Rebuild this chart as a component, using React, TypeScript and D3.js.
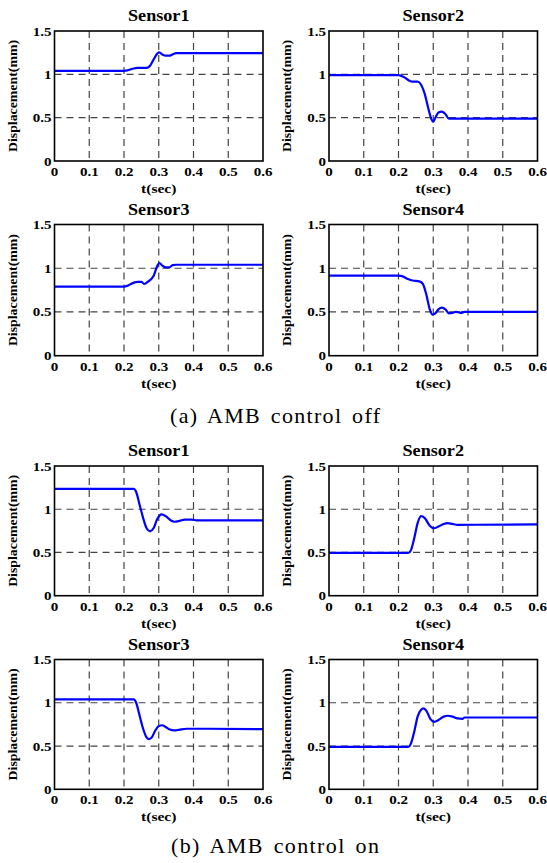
import React from "react";
import * as d3 from "d3";

// ---------- data ----------
const xTicks = [0, 0.1, 0.2, 0.3, 0.4, 0.5, 0.6];
const yTicks = [0, 0.5, 1, 1.5];
const xTickLabels = ["0", "0.1", "0.2", "0.3", "0.4", "0.5", "0.6"];
const yTickLabels = ["0", "0.5", "1", "1.5"];
const titles = ["Sensor1", "Sensor2", "Sensor3", "Sensor4"];
const captions = ["(a) AMB control off", "(b) AMB control on"];
const xLabel = "t(sec)";
const yLabel = "Displacement(mm)";

const offSensor1: [number, number][] = [
  [0, 1.04], [0.2, 1.04], [0.21, 1.045], [0.225, 1.065], [0.24, 1.075], [0.265, 1.075],
  [0.275, 1.1], [0.285, 1.17], [0.295, 1.235], [0.3, 1.255], [0.31, 1.23], [0.32, 1.215],
  [0.33, 1.215], [0.34, 1.23], [0.35, 1.245], [0.6, 1.245],
];
const offSensor2: [number, number][] = [
  [0, 0.99], [0.2, 0.99], [0.215, 0.97], [0.23, 0.93], [0.24, 0.915], [0.255, 0.915],
  [0.265, 0.88], [0.275, 0.78], [0.285, 0.62], [0.295, 0.48], [0.3, 0.45], [0.305, 0.49],
  [0.315, 0.56], [0.325, 0.57], [0.335, 0.54], [0.345, 0.49], [0.355, 0.49], [0.6, 0.49],
];
const offSensor3: [number, number][] = [
  [0, 0.79], [0.2, 0.79], [0.21, 0.8], [0.225, 0.83], [0.24, 0.845], [0.25, 0.845],
  [0.258, 0.82], [0.27, 0.85], [0.285, 0.91], [0.295, 1.02], [0.302, 1.06], [0.31, 1.03],
  [0.32, 1.01], [0.33, 1.01], [0.34, 1.035], [0.35, 1.04], [0.6, 1.04],
];
const offSensor4: [number, number][] = [
  [0, 0.915], [0.2, 0.915], [0.21, 0.91], [0.225, 0.88], [0.24, 0.86], [0.26, 0.85],
  [0.27, 0.82], [0.28, 0.7], [0.29, 0.53], [0.298, 0.47], [0.305, 0.48], [0.315, 0.53],
  [0.325, 0.55], [0.335, 0.53], [0.345, 0.485], [0.355, 0.49], [0.365, 0.5], [0.375, 0.495],
  [0.38, 0.49], [0.39, 0.5], [0.6, 0.5],
];
const onSensor1: [number, number][] = [
  [0, 1.235], [0.228, 1.235], [0.235, 1.2], [0.245, 1.05], [0.255, 0.9], [0.265, 0.78],
  [0.275, 0.745], [0.285, 0.78], [0.295, 0.88], [0.308, 0.94], [0.32, 0.92], [0.335, 0.87],
  [0.345, 0.855], [0.36, 0.865], [0.375, 0.88], [0.395, 0.88], [0.41, 0.87], [0.6, 0.87],
];
const onSensor2: [number, number][] = [
  [0, 0.495], [0.228, 0.495], [0.235, 0.52], [0.245, 0.66], [0.255, 0.84], [0.265, 0.92],
  [0.275, 0.9], [0.29, 0.81], [0.302, 0.78], [0.315, 0.8], [0.33, 0.83], [0.342, 0.84],
  [0.355, 0.83], [0.37, 0.82], [0.6, 0.825],
];
const onSensor3: [number, number][] = [
  [0, 1.04], [0.228, 1.04], [0.235, 1.0], [0.245, 0.85], [0.255, 0.7], [0.265, 0.6],
  [0.272, 0.58], [0.28, 0.6], [0.29, 0.68], [0.3, 0.73], [0.31, 0.74], [0.32, 0.72],
  [0.332, 0.69], [0.345, 0.68], [0.36, 0.69], [0.38, 0.7], [0.4, 0.7], [0.6, 0.695],
];
const onSensor4: [number, number][] = [
  [0, 0.49], [0.228, 0.49], [0.235, 0.52], [0.245, 0.66], [0.255, 0.84], [0.265, 0.92],
  [0.272, 0.935], [0.28, 0.91], [0.292, 0.81], [0.302, 0.78], [0.315, 0.8], [0.33, 0.84],
  [0.342, 0.85], [0.355, 0.84], [0.37, 0.82], [0.385, 0.815], [0.39, 0.83], [0.6, 0.83],
];

const seriesList = [
  offSensor1, offSensor2, offSensor3, offSensor4,
  onSensor1, onSensor2, onSensor3, onSensor4,
];

// ---------- layout ----------
const W = 547;
const H = 863;
const colX = [[54.5, 263], [329, 537.5]];
const rowY = [[31, 161], [224.5, 355.7], [466, 595.7], [659.5, 789.3]];
const FONT = "'Liberation Serif', 'Times New Roman', serif";

function Panel({ idx }: { idx: number }) {
  const row = Math.floor(idx / 2);
  const col = idx % 2;
  const [x0, x1] = colX[col];
  const [y0, y1] = rowY[row];
  const x = d3.scaleLinear().domain([0, 0.6]).range([x0, x1]);
  const y = d3.scaleLinear().domain([0, 1.5]).range([y1, y0]);
  const line = d3
    .line<[number, number]>()
    .x((d) => x(d[0]))
    .y((d) => y(d[1]))
    .curve(d3.curveMonotoneX);
  const data = seriesList[idx];
  const title = titles[idx % 4];
  const cx = (x0 + x1) / 2;
  return (
    <g>
      {xTicks.slice(1, -1).map((t) => (
        <line key={"gx" + t} x1={x(t)} x2={x(t)} y1={y0} y2={y1}
          stroke="#444" strokeWidth={1.2} strokeDasharray="7,5" />
      ))}
      {yTicks.slice(1, -1).map((t) => (
        <line key={"gy" + t} x1={x0} x2={x1} y1={y(t)} y2={y(t)}
          stroke="#444" strokeWidth={1.2} strokeDasharray="7,5" />
      ))}
      <path d={line(data) || ""} fill="none" stroke="#0000ff" strokeWidth={2.2} strokeLinejoin="round" />
      <rect x={x0} y={y0} width={x1 - x0} height={y1 - y0} fill="none" stroke="#000" strokeWidth={1.6} />
      {xTicks.map((t, i) => (
        <text key={"xl" + t} transform={`translate(${x(t)},${y1 + 15}) scale(1.25,1)`}
          textAnchor="middle" fontFamily={FONT} fontWeight="bold" fontSize={12}>
          {xTickLabels[i]}
        </text>
      ))}
      {yTicks.map((t, i) => (
        <text key={"yl" + t} transform={`translate(${x0 - 3},${y(t) + 4.5}) scale(1.25,1)`}
          textAnchor="end" fontFamily={FONT} fontWeight="bold" fontSize={12}>
          {yTickLabels[i]}
        </text>
      ))}
      <text transform={`translate(${cx},${y0 - 10}) scale(1.1,1)`} textAnchor="middle"
        fontFamily={FONT} fontWeight="bold" fontSize={16.5}>
        {title}
      </text>
      <text transform={`translate(${cx},${y1 + 32}) scale(1.2,1)`} textAnchor="middle"
        fontFamily={FONT} fontWeight="bold" fontSize={13}>
        {xLabel}
      </text>
      <text transform={`translate(${x0 - 38},${(y0 + y1) / 2}) rotate(-90)`} textAnchor="middle"
        fontFamily={FONT} fontWeight="bold" fontSize={12} textLength={112}
        lengthAdjust="spacingAndGlyphs">
        {yLabel}
      </text>
    </g>
  );
}

export default function App() {
  return (
    <svg width={W} height={H} style={{ position: "absolute", left: 0, top: 0, background: "#fff" }}>
      <rect x={0} y={0} width={W} height={H} fill="#fff" />
      {d3.range(8).map((i) => (
        <Panel key={i} idx={i} />
      ))}
      <text x={275} y={423} textAnchor="middle" fontFamily={FONT} fontSize={22}
        textLength={210} lengthAdjust="spacing" wordSpacing={3}>
        {captions[0]}
      </text>
      <text x={275} y={853} textAnchor="middle" fontFamily={FONT} fontSize={22}
        textLength={208} lengthAdjust="spacing" wordSpacing={3}>
        {captions[1]}
      </text>
    </svg>
  );
}
